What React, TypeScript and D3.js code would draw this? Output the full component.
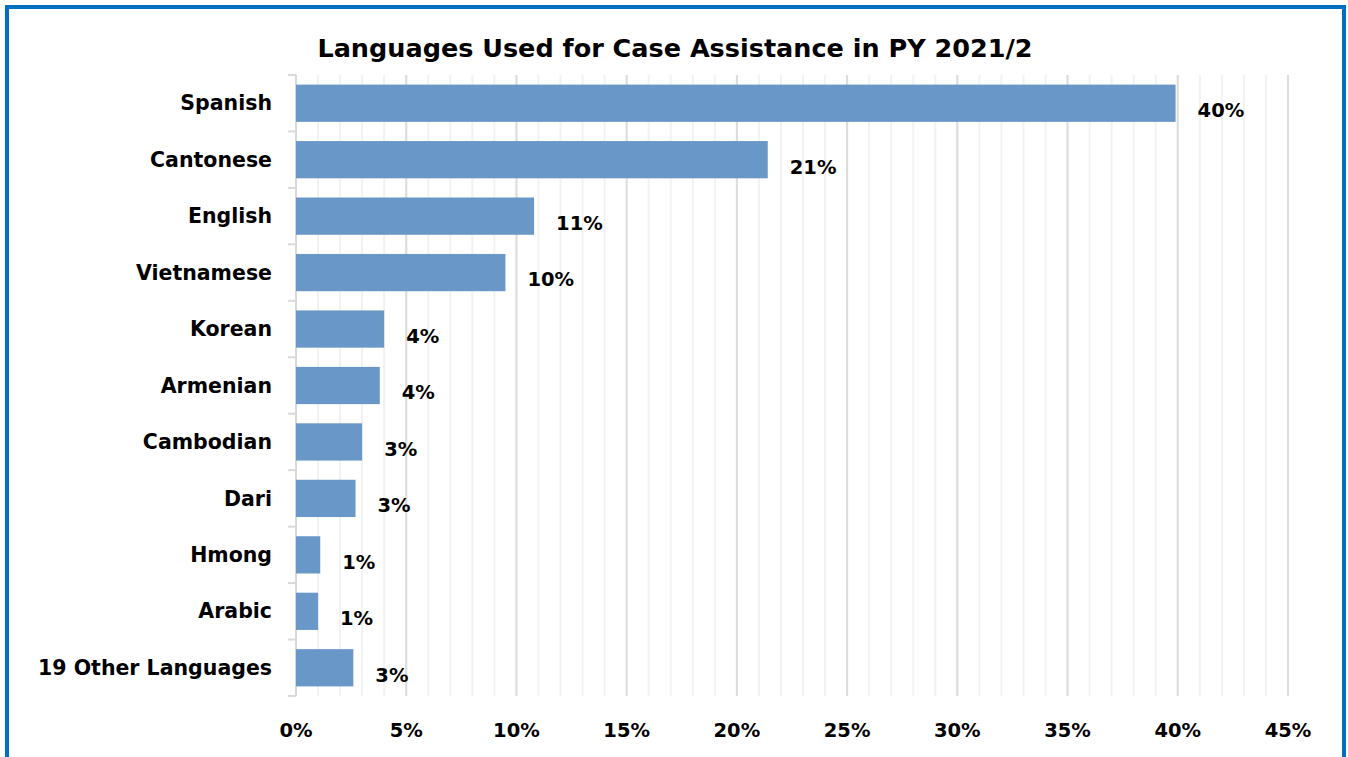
import React from "react";
import * as d3 from "d3";

const categories = ["Spanish","Cantonese","English","Vietnamese","Korean","Armenian","Cambodian","Dari","Hmong","Arabic","19 Other Languages"];
const values = [0.399, 0.214, 0.108, 0.095, 0.040, 0.038, 0.030, 0.027, 0.011, 0.010, 0.026];
const labels = ["40%","21%","11%","10%","4%","4%","3%","3%","1%","1%","3%"];
const majorTicks = [0,0.05,0.1,0.15,0.2,0.25,0.3,0.35,0.4,0.45];
const minorTicks = d3.range(0, 46).map(d => d / 100);

const W = 1348, H = 757;
const FONT = "'DejaVu Sans', sans-serif";

export default function App() {
  const x = d3.scaleLinear().domain([0, 0.45]).range([296, 1288]);
  const y = d3.scaleBand().domain(categories).range([75, 696]).paddingInner(0.34).paddingOuter(0.17);
  const bounds = d3.range(0, categories.length + 1).map(i => 75 + i * (621 / categories.length));
  return (
    <svg width={W} height={H} style={{position:"absolute", left:0, top:0}}>
      <rect x={0} y={0} width={W} height={H} fill="#fff" />
      <rect x={7} y={7} width={1337} height={760} fill="none" stroke="#0070C0" strokeWidth={4} />
      <text x={675} y={57} textAnchor="middle" fontFamily={FONT} fontWeight="bold" fontSize={25.5} fill="#000">Languages Used for Case Assistance in PY 2021/2</text>
      {minorTicks.map((t,i) => (
        <line key={"m"+i} x1={x(t)} x2={x(t)} y1={75} y2={696} stroke="#f2f2f2" strokeWidth={2} />
      ))}
      {majorTicks.map((t,i) => (
        <line key={"M"+i} x1={x(t)} x2={x(t)} y1={75} y2={696} stroke="#dcdcdc" strokeWidth={2} />
      ))}
      <line x1={296} x2={296} y1={75} y2={696} stroke="#d9d9d9" strokeWidth={2} />
      {bounds.map((b,i) => (
        <line key={"b"+i} x1={288} x2={296} y1={b} y2={b} stroke="#d9d9d9" strokeWidth={2} />
      ))}
      {categories.map((c,i) => (
        <g key={c}>
          <rect x={x(0)} y={y(c)!} width={x(values[i]) - x(0)} height={y.bandwidth()} fill="#6997C8" />
          <text x={272} y={y(c)! + y.bandwidth()/2} dy="0.35em" textAnchor="end" fontFamily={FONT} fontWeight="bold" fontSize={20.5} fill="#000">{c}</text>
          <text x={x(values[i]) + 22} y={y(c)! + y.bandwidth()/2 + 7} dy="0.35em" textAnchor="start" fontFamily={FONT} fontWeight="bold" fontSize={19.5} fill="#000">{labels[i]}</text>
        </g>
      ))}
      {majorTicks.map((t,i) => (
        <text key={"t"+i} x={x(t)} y={730} dy="0.35em" textAnchor="middle" fontFamily={FONT} fontWeight="bold" fontSize={19.5} fill="#000">{d3.format(".0%")(t)}</text>
      ))}
    </svg>
  );
}
